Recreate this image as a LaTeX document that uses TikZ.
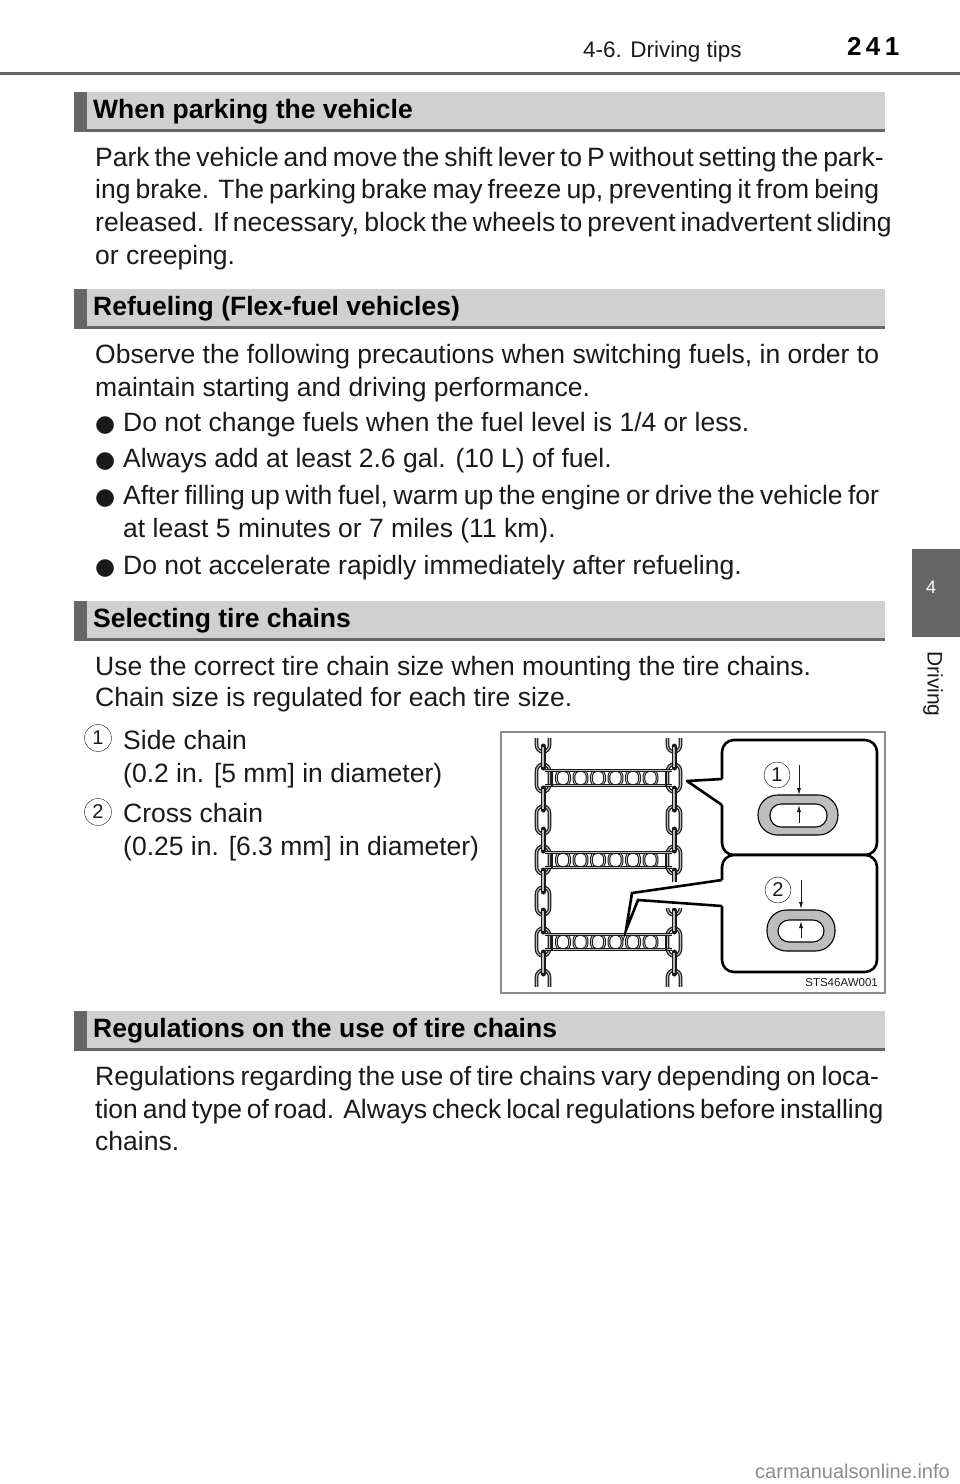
\documentclass[tikz,border=0pt]{standalone}
\usepackage{fontspec}
\usepackage{tikz}
\setmainfont{Liberation Sans}
\newfontfamily\bulletfont{DejaVu Sans}
\definecolor{tabgray}{HTML}{666666}
\definecolor{headgray}{HTML}{D0D0D0}
\definecolor{ovalgray}{HTML}{BDBDBD}
\definecolor{inkblack}{HTML}{1A1A1A}
\newcommand{\fitline}[1]{\hbox to 784pt{#1}}
\newcommand{\fitbullet}[1]{\hbox to 756pt{#1}}
\tikzset{
  bodyline/.style={anchor=base west, inner sep=0pt, text=inkblack, font=\fontsize{26.5}{30}\selectfont},
  headline/.style={anchor=base west, inner sep=0pt, text=black, font=\fontsize{26.5}{30}\selectfont\bfseries},
  bulletmark/.style={anchor=base west, inner sep=0pt, text=inkblack, font=\bulletfont\fontsize{23}{26}\selectfont},
  numcircle/.style={circle, draw=inkblack, thin, minimum size=27pt, inner sep=0pt, text=inkblack, font=\fontsize{20}{22}\selectfont},
  linkdark/.style={draw=inkblack, line width=3.6pt, rounded corners=7pt},
  linklight/.style={draw=ovalgray, line width=1.1pt, rounded corners=7pt},
  rungdark/.style={draw=inkblack, line width=2.8pt, rounded corners=5pt},
  runglight/.style={draw=ovalgray, line width=.8pt, rounded corners=5pt},
  callout/.style={draw=black, line width=2.6pt, fill=white, line join=round},
  sizearrow/.style={draw=inkblack, line width=.8pt, -{Latex[length=7pt,width=4pt]}},
}
\usetikzlibrary{arrows.meta}
\begin{document}
\begin{tikzpicture}[x=1pt,y=-1pt]
\useasboundingbox (0,0) rectangle (960,1484);
\fill[white] (0,0) rectangle (960,1484);

% page head
\node[bodyline, font=\fontsize{22.5}{26}\selectfont] (headtitle) at (583,57) {4-6. Driving tips};
\node[headline, font=\fontsize{26}{30}\selectfont\bfseries] (headpage) at (847,55) {2\,4\,1};
\fill[tabgray] (0,71.5) rectangle (960,75);

% thumb tab
\fill[tabgray] (912,549) rectangle (960,637);
\node[inner sep=0pt, text=white, font=\fontsize{18}{20}\selectfont] (tabnum) at (931,587) {4};
\node[inner sep=0pt, rotate=-90, text=inkblack, font=\fontsize{21}{24}\selectfont] (tabname) at (933,684) {Driving};

% section bars
\foreach \y in {92,289,601,1011}{
  \fill[headgray] (87,\y) rectangle (885,\y+37);
  \fill[tabgray] (87,\y+37) rectangle (885,\y+39.5);
  \fill[tabgray] (74,\y) rectangle (87,\y+39.5);
}
\node[headline] (parkhead) at (93,118) {When parking the vehicle};
\node[headline] (fuelhead) at (93,315) {Refueling (Flex-fuel vehicles)};
\node[headline] (selecthead) at (93,627) {Selecting tire chains};
\node[headline] (ruleshead) at (93,1037) {Regulations on the use of tire chains};

% parking
\node[bodyline] (parka) at (95,166) {\fitline{Park the vehicle and move the shift lever to P without setting the park-}};
\node[bodyline] (parkb) at (95,198) {\fitline{ing brake. The parking brake may freeze up, preventing it from being}};
\node[bodyline] (parkc) at (95,231) {\fitline{released. If necessary, block the wheels to prevent inadvertent sliding}};
\node[bodyline] (parkd) at (95,264) {or creeping.};

% refueling
\node[bodyline] (fuela) at (95,363) {\fitline{Observe the following precautions when switching fuels, in order to}};
\node[bodyline] (fuelb) at (95,396) {maintain starting and driving performance.};
\foreach \n/\y in {a/431,b/467,c/504,d/574}
  \node[bulletmark] (dot\n) at (95,\y) {●};
\node[bodyline] (tipa) at (123,431) {Do not change fuels when the fuel level is 1/4 or less.};
\node[bodyline] (tipb) at (123,467) {Always add at least 2.6 gal. (10 L) of fuel.};
\node[bodyline] (tipc) at (123,504) {\fitbullet{After filling up with fuel, warm up the engine or drive the vehicle for}};
\node[bodyline] (tipcc) at (123,537) {at least 5 minutes or 7 miles (11 km).};
\node[bodyline] (tipd) at (123,574) {Do not accelerate rapidly immediately after refueling.};

% tire chains
\node[bodyline] (sizea) at (95,675) {Use the correct tire chain size when mounting the tire chains.};
\node[bodyline] (sizeb) at (95,706) {Chain size is regulated for each tire size.};
\node[numcircle] (keya) at (98,738) {1};
\node[bodyline] (sidea) at (123,749) {Side chain};
\node[bodyline] (sideb) at (123,782) {(0.2 in. [5 mm] in diameter)};
\node[numcircle] (keyb) at (98,812) {2};
\node[bodyline] (crossa) at (123,822) {Cross chain};
\node[bodyline] (crossb) at (123,855) {(0.25 in. [6.3 mm] in diameter)};

% regulations
\node[bodyline] (rulesa) at (95,1085) {\fitline{Regulations regarding the use of tire chains vary depending on loca-}};
\node[bodyline] (rulesb) at (95,1118) {\fitline{tion and type of road. Always check local regulations before installing}};
\node[bodyline] (rulesc) at (95,1150) {chains.};

% chain picture
\draw[draw=black!45, line width=1.2pt] (501,732) rectangle (885,993);
\begin{scope}
\clip (520,738) rectangle (700,986);
\foreach \x in {543,674}{
  \foreach \y in {738,778,820,860,901,942,984}{
    \draw[linkdark] (\x-6.5,\y-14) rectangle (\x+6.5,\y+14);
    \draw[linklight] (\x-6.5,\y-14) rectangle (\x+6.5,\y+14);
  }
  \foreach \y in {757,799,840,881,921,963}{
    \draw[draw=inkblack, line width=5pt, line cap=round] (\x,\y-11) -- (\x,\y+11);
    \draw[draw=ovalgray, line width=1.2pt] (\x,\y-10) -- (\x,\y+10);
  }
}
\end{scope}
\foreach \y in {778,860,942}{
  \fill[white] (552,\y-8) rectangle (666,\y+8);
  \foreach \x in {563,580.5,598,615.5,633,650.5}{
    \draw[rungdark] (\x-6.5,\y-7.5) rectangle (\x+6.5,\y+7.5);
    \draw[runglight] (\x-6.5,\y-7.5) rectangle (\x+6.5,\y+7.5);
  }
  \foreach \s in {-1,1}{
    \draw[draw=inkblack, line width=2.8pt] (545,\y+\s*7.5) -- (672,\y+\s*7.5);
    \draw[draw=ovalgray, line width=.8pt] (545,\y+\s*7.5) -- (672,\y+\s*7.5);
  }
  \draw[draw=inkblack, line width=1.4pt] (552,\y-7.5) -- (552,\y+7.5);
  \draw[draw=inkblack, line width=1.4pt] (666,\y-7.5) -- (666,\y+7.5);
}
\fill[white] (660,882) rectangle (690,908);

% callouts
\coordinate (tipone) at (687,781);
\coordinate (tiptwo) at (626,930);
\draw[callout, rounded corners=12pt] (722,805) -- (722,855) -- (877,855) -- (877,740) -- (722,740) -- (722,779);
\draw[callout] (722,805) -- (tipone) -- (722,779);
\draw[callout, rounded corners=12pt] (722,906) -- (722,972) -- (877,972) -- (877,855) -- (722,855) -- (722,880);
\fill[white] (723,881) -- (632,893) -- (tiptwo) -- (638,900) -- (723,906) -- cycle;
\draw[draw=black, line width=2.6pt, line join=miter] (722,880) -- (632,893) -- (tiptwo) -- (638,900) -- (722,906);

% link close-ups
\node[numcircle, draw=black, minimum size=26pt] (sidemark) at (777,775) {1};
\node[numcircle, draw=black, minimum size=26pt] (crossmark) at (778,890) {2};
\draw[draw=black, line width=1.1pt, fill=ovalgray, rounded corners=19.5pt] (758,795) rectangle (838,835);
\draw[draw=black, line width=1.1pt, fill=white, rounded corners=11pt] (770,804) rectangle (827,827);
\draw[draw=black, line width=1.1pt, fill=ovalgray, rounded corners=19.5pt] (767,910) rectangle (835,951);
\draw[draw=black, line width=1.1pt, fill=white, rounded corners=11pt] (778,920) rectangle (824,942);
\coordinate (sidetopa) at (799,765);
\coordinate (sidetopb) at (799,795);
\coordinate (sidelowa) at (799,823);
\coordinate (sidelowb) at (799,805);
\coordinate (crosstopa) at (801,880);
\coordinate (crosstopb) at (801,909);
\coordinate (crosslowa) at (801,938);
\coordinate (crosslowb) at (801,921);
\draw[sizearrow] (sidetopa) -- (sidetopb);
\draw[sizearrow] (sidelowa) -- (sidelowb);
\draw[sizearrow] (crosstopa) -- (crosstopb);
\draw[sizearrow] (crosslowa) -- (crosslowb);
\node[anchor=base east, inner sep=0pt, text=inkblack, font=\fontsize{11.5}{13}\selectfont] (artcode) at (878,986) {STS46AW001};

% site mark
\node[anchor=base east, inner sep=0pt, text=black!45, font=\fontsize{20}{22}\selectfont] (sitemark) at (950,1478) {carmanualsonline.info};
\end{tikzpicture}
\end{document}
